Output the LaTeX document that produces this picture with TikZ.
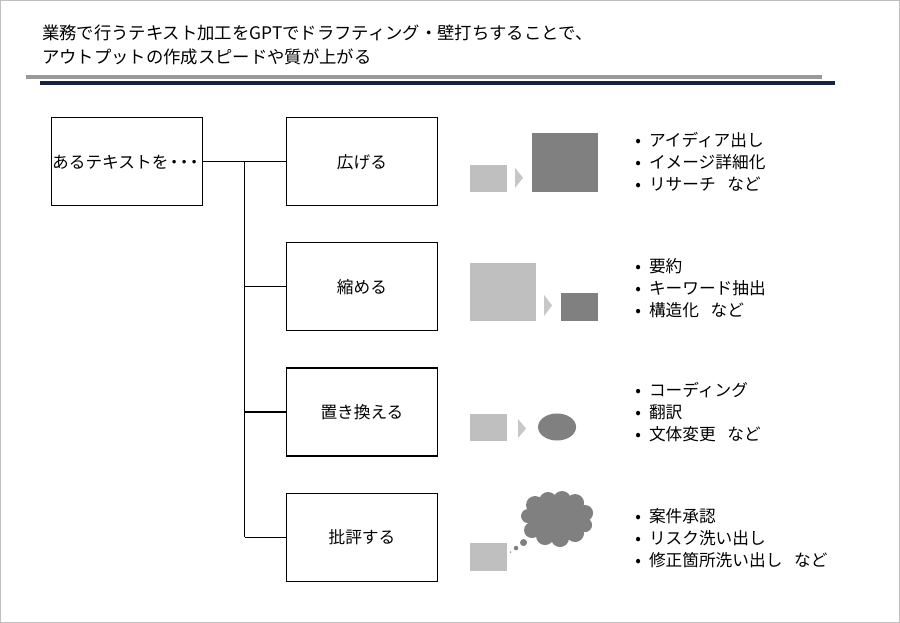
\documentclass[tikz,border=0pt]{standalone}
\usepackage{fontspec}
\setmainfont{Noto Sans CJK JP}
\begin{document}
\begin{tikzpicture}[x=0.75pt,y=-0.75pt,
  box/.style={draw=black,line width=0.8pt,minimum width=151*0.75pt,minimum height=88*0.75pt,inner sep=0pt,font=\fontsize{12.5}{14}\selectfont},
  lt/.style={fill=black!25,draw=none},
  dk/.style={fill=black!50,draw=none},
  tri/.style={fill=black!22,draw=none},
  bl/.style={anchor=west,font=\fontsize{12.5}{14}\selectfont,inner sep=0pt},
  conn/.style={draw=black,line width=0.8pt}]
\path[use as bounding box,draw=black!25,fill=white] (0.5,0.5) rectangle (899.5,622.5);
\node[anchor=west,inner sep=0pt,font=\fontsize{13}{16}\selectfont] (t1) at (42,33) {業務で行うテキスト加工をGPTでドラフティング・壁打ちすることで、};
\node[anchor=west,inner sep=0pt,font=\fontsize{13}{16}\selectfont] (t2) at (42,57) {アウトプットの作成スピードや質が上がる};
\fill[black!40] (26,75.5) rectangle (822,79);
\fill[fill={rgb,255:red,20;green,35;blue,65}] (40,81.5) rectangle (835,85);
\node[box,text width=151*0.75pt,align=center] (src) at (127.5,162) {あるテキストを\kern-2pt・\kern-5pt・\kern-5pt・};
\node[box] (a) at (362,162) {広げる};
\node[box] (b) at (362,287) {縮める};
\node[box] (c) at (362,412) {置き換える};
\node[box] (d) at (362,537) {批評する};
\coordinate (j) at (245,162);
\coordinate (j4) at (245,537);
\draw[conn] (src.east) -- (j) -- (j4);
\draw[conn] (j) -- (a.west);
\draw[conn] (245,287) -- (b.west);
\draw[conn] (245,412) -- (c.west);
\draw[conn] (j4) -- (d.west);
% row1
\fill[lt] (470,165) rectangle (507,192);
\fill[tri] (515,168) -- (523,178) -- (515,188) -- cycle;
\fill[dk] (532,133) rectangle (598,192);
% row2
\fill[lt] (470,263) rectangle (536,321);
\fill[tri] (544,295) -- (552,305.5) -- (544,316) -- cycle;
\fill[dk] (561,293) rectangle (598,321);
% row3
\fill[lt] (470,414) rectangle (507,441);
\fill[tri] (518,419) -- (526,428.5) -- (518,438) -- cycle;
\fill[dk] (557,427) ellipse (19 and 13.5);
% row4
\fill[lt] (470,543) rectangle (507,571);
\fill[dk] (510.5,552) circle (0.8);
\fill[dk] (516,548) circle (2.3);
\fill[dk] (523.5,542.5) circle (3.5);
\fill[dk] (528,516) circle (7) (535,505) circle (9) (548,501) circle (9) (562,500) circle (9) (575,503) circle (9) (585,513) circle (8) (585,525) circle (7) (575,533) circle (9) (560,538) circle (9) (545,536) circle (9) (532,530) circle (8) (555,518) ellipse (28 and 18);
% bullets
\node[bl] (a1) at (635,140) {•\hspace{6pt}アイディア出し};
\node[bl] (a2) at (635,162) {•\hspace{6pt}イメージ詳細化};
\node[bl] (a3) at (635,184) {•\hspace{6pt}リサーチ\hspace{0.7em}など};
\node[bl] (b1) at (635,266) {•\hspace{6pt}要約};
\node[bl] (b2) at (635,288) {•\hspace{6pt}キーワード抽出};
\node[bl] (b3) at (635,310) {•\hspace{6pt}構造化\hspace{0.7em}など};
\node[bl] (c1) at (635,390) {•\hspace{6pt}コーディング};
\node[bl] (c2) at (635,412) {•\hspace{6pt}翻訳};
\node[bl] (c3) at (635,434) {•\hspace{6pt}文体変更\hspace{0.7em}など};
\node[bl] (d1) at (635,516) {•\hspace{6pt}案件承認};
\node[bl] (d2) at (635,538) {•\hspace{6pt}リスク洗い出し};
\node[bl] (d3) at (635,560) {•\hspace{6pt}修正箇所洗い出し\hspace{0.7em}など};
\end{tikzpicture}
\end{document}
